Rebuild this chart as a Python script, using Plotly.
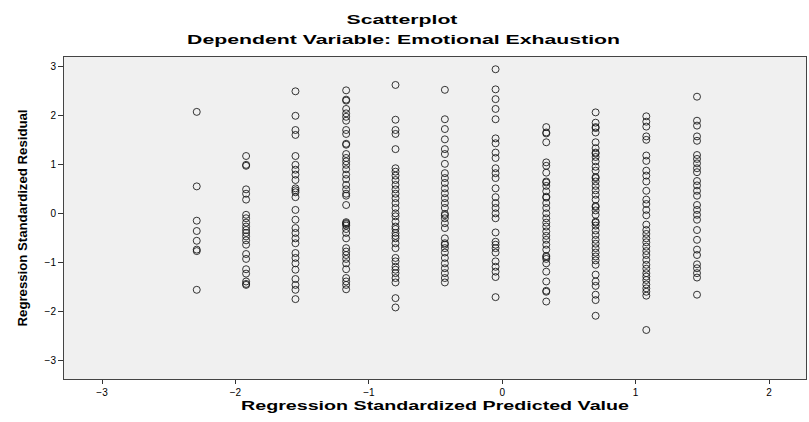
import plotly.graph_objects as go

col_x = [-2.29, -1.92, -1.55, -1.17, -0.80, -0.43, -0.05, 0.33, 0.70, 1.08, 1.46]

col_residuals = [
    [2.08, 0.56, -0.14, -0.35, -0.55, -0.73, -0.76, -1.55],
    [1.18, 1.0, 0.98, 0.50, 0.41, 0.29, -0.02, -0.09, -0.18, -0.26, -0.33, -0.39, -0.46,
     -0.54, -0.63, -0.82, -0.92, -1.13, -1.22, -1.38, -1.43, -1.45],
    [2.50, 2.00, 1.71, 1.61, 1.18, 1.0, 0.90, 0.80, 0.69, 0.52, 0.48, 0.44, 0.34, 0.08, -0.12,
     -0.29, -0.39, -0.50, -0.60, -0.80, -0.90, -1.01, -1.14, -1.33, -1.45, -1.55, -1.74],
    [2.52, 2.33, 2.31, 2.14, 2.05, 1.98, 1.90, 1.71, 1.63, 1.43, 1.41, 1.22, 1.14, 1.07, 1.0,
     0.91, 0.80, 0.71, 0.59, 0.50, 0.41, 0.37, 0.18, -0.17, -0.19, -0.21, -0.24, -0.31, -0.39,
     -0.50, -0.70, -0.77, -0.84, -0.92, -1.01, -1.13, -1.31, -1.38, -1.45, -1.54],
    [2.63, 1.92, 1.71, 1.63, 1.32, 0.93, 0.86, 0.78, 0.69, 0.59, 0.50, 0.41, 0.32, 0.22, 0.12,
     0.01, -0.05, -0.16, -0.26, -0.31, -0.39, -0.45, -0.50, -0.60, -0.70, -0.90, -0.97, -1.08,
     -1.14, -1.21, -1.31, -1.40, -1.72, -1.91],
    [2.53, 1.93, 1.73, 1.52, 1.32, 1.22, 1.02, 0.83, 0.73, 0.63, 0.52, 0.42, 0.32, 0.22, 0.12,
     0.0, -0.03, -0.09, -0.19, -0.29, -0.50, -0.60, -0.63, -0.70, -0.79, -0.90, -1.01, -1.11,
     -1.21, -1.31, -1.40],
    [2.95, 2.54, 2.34, 2.14, 1.93, 1.54, 1.44, 1.25, 1.14, 0.93, 0.83, 0.73, 0.52, 0.34, 0.22,
     0.12, 0.01, -0.09, -0.38, -0.57, -0.63, -0.70, -0.79, -0.97, -1.08, -1.18, -1.29, -1.70],
    [1.77, 1.66, 1.64, 1.46, 1.05, 0.98, 0.84, 0.66, 0.64, 0.57, 0.46, 0.35, 0.33, 0.22, 0.12,
     0.01, -0.09, -0.18, -0.26, -0.36, -0.45, -0.53, -0.63, -0.73, -0.86, -0.88, -0.92, -1.01,
     -1.18, -1.38, -1.57, -1.59, -1.79],
    [2.07, 1.86, 1.77, 1.75, 1.66, 1.46, 1.34, 1.25, 1.23, 1.16, 1.07, 0.96, 0.88, 0.75, 0.73,
     0.66, 0.57, 0.48, 0.39, 0.29, 0.16, 0.14, 0.07, -0.02, -0.16, -0.18, -0.24, -0.34, -0.43,
     -0.53, -0.61, -0.70, -0.79, -0.87, -0.95, -1.04, -1.24, -1.38, -1.47, -1.65, -1.76, -2.08],
    [1.99, 1.88, 1.78, 1.58, 1.51, 1.19, 1.08, 0.88, 0.78, 0.66, 0.47, 0.29, 0.20, 0.08, -0.03,
     -0.22, -0.33, -0.41, -0.50, -0.58, -0.67, -0.76, -0.84, -0.94, -1.04, -1.12, -1.21, -1.28,
     -1.35, -1.44, -1.52, -1.59, -1.67, -2.37],
    [2.39, 1.90, 1.80, 1.58, 1.49, 1.20, 1.12, 1.03, 0.93, 0.85, 0.67, 0.58, 0.47, 0.37, 0.18,
     0.08, -0.02, -0.12, -0.33, -0.53, -0.73, -0.84, -1.03, -1.11, -1.21, -1.30, -1.65],
]

x_ticks = [-3, -2, -1, 0, 1, 2]
y_ticks = [-3, -2, -1, 0, 1, 2, 3]

title_main = "Scatterplot"
title_sub = "Dependent Variable: Emotional Exhaustion"
x_title = "Regression Standardized Predicted Value"
y_title = "Regression Standardized Residual"

xs, ys = [], []
for cx, vals in zip(col_x, col_residuals):
    for v in vals:
        xs.append(cx)
        ys.append(v)

fig = go.Figure(go.Scatter(
    x=xs, y=ys, mode="markers",
    marker=dict(symbol="circle-open", size=7, color="rgba(20,20,20,0.85)",
                line=dict(width=1, color="rgba(20,20,20,0.85)")),
    hoverinfo="x+y",
))

W, H = 809, 422
ML, MR, MT, MB = 64, 3, 57, 43
plot_w = W - ML - MR
plot_h = H - MT - MB

FAM = "Arial, Liberation Sans, sans-serif"
axis_font = dict(family=FAM, size=10, color="#000")
fig.update_layout(
    width=W, height=H,
    paper_bgcolor="white", plot_bgcolor="#f0f0f0",
    margin=dict(l=ML, r=MR, t=MT, b=MB),
    showlegend=False,
    font=dict(family=FAM, color="#000"),
    xaxis=dict(range=[-3.285, 2.277], tickvals=x_ticks, ticks="outside", ticklen=4,
               tickcolor="#333", showgrid=False, zeroline=False, showline=True,
               linecolor="#444", linewidth=1, mirror=True, tickfont=axis_font,
               title=dict(text=x_title, font=dict(size=13, family=FAM, weight="bold"),
                          standoff=1)),
    yaxis=dict(range=[-3.37, 3.2], tickvals=y_ticks, ticks="outside", ticklen=5,
               tickcolor="#333", showgrid=False, zeroline=False, showline=True,
               linecolor="#444", linewidth=1, mirror=True, tickfont=axis_font,
               title=dict(text=y_title, font=dict(size=12, family=FAM, weight="bold"),
                          standoff=14)),
    annotations=[
        dict(text=title_main, x=(402 - ML) / plot_w, y=1 + (MT - 19) / plot_h,
             xref="paper", yref="paper", xanchor="center", yanchor="middle",
             showarrow=False, font=dict(size=13, weight="bold")),
        dict(text=title_sub, x=(403 - ML) / plot_w,
             y=1 + (MT - 39) / plot_h, xref="paper", yref="paper", xanchor="center",
             yanchor="middle", showarrow=False, font=dict(size=13, weight="bold")),
    ],
)

post = """
document.body.style.margin='0px';
var gd = document.getElementById('{plot_id}');
function fitText(){
  var ann = gd.querySelectorAll('text.annotation-text');
  var lens = [111, 433];
  ann.forEach(function(t, i){ if (i < lens.length) { t.setAttribute('textLength', lens[i]); t.setAttribute('lengthAdjust', 'spacingAndGlyphs'); } });
  gd.querySelectorAll('text.xtitle').forEach(function(t){
    t.setAttribute('textLength', 388); t.setAttribute('lengthAdjust', 'spacingAndGlyphs');
  });
  gd.querySelectorAll('text.ytitle').forEach(function(t){
    t.setAttribute('textLength', 217); t.setAttribute('lengthAdjust', 'spacingAndGlyphs');
  });
}
fitText();
if (gd.on) { gd.on('plotly_afterplot', fitText); }
setTimeout(fitText, 50);
setTimeout(fitText, 300);
"""

fig.write_html("out.html", post_script=post, config={"displayModeBar": False})
